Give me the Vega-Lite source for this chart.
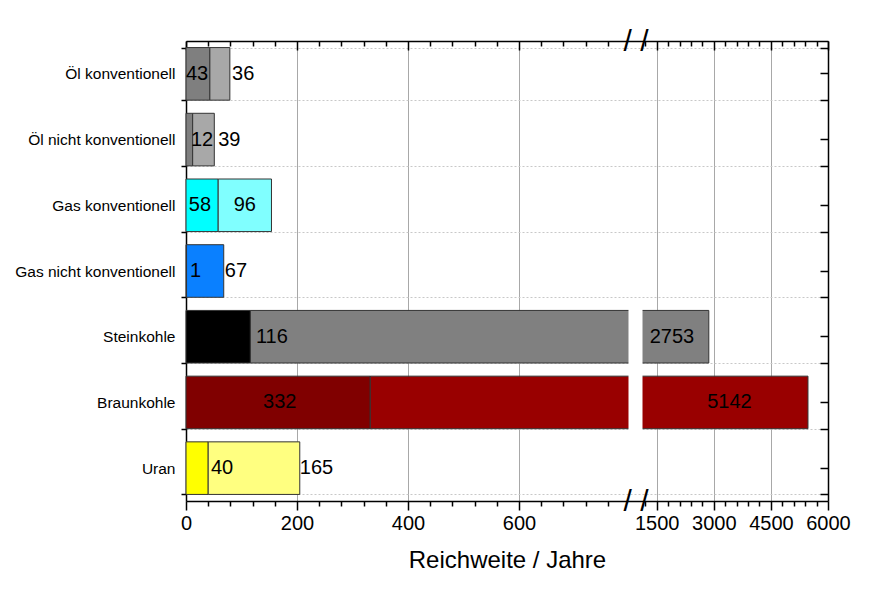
{
  "$schema": "https://vega.github.io/schema/vega-lite/v6.json",
  "autosize": {"type": "none"},
  "padding": {"left": 186, "top": 41, "right": 54, "bottom": 89},
  "width": 642,
  "height": 460,
  "background": "white",
  "config": {
    "font": "Liberation Sans",
    "view": {"stroke": null}
  },
  "datasets": {
    "reichweite": [
      {"kat": "Öl konventionell", "teil": "Reserven", "segment": "Öl Reserven", "wert": 43},
      {"kat": "Öl konventionell", "teil": "Ressourcen", "segment": "Öl Ressourcen", "wert": 36},
      {"kat": "Öl nicht konventionell", "teil": "Reserven", "segment": "Öl Reserven", "wert": 12},
      {"kat": "Öl nicht konventionell", "teil": "Ressourcen", "segment": "Öl Ressourcen", "wert": 39},
      {"kat": "Gas konventionell", "teil": "Reserven", "segment": "Gas Reserven", "wert": 58},
      {"kat": "Gas konventionell", "teil": "Ressourcen", "segment": "Gas Ressourcen", "wert": 96},
      {"kat": "Gas nicht konventionell", "teil": "Reserven", "segment": "Gas nk Reserven", "wert": 1},
      {"kat": "Gas nicht konventionell", "teil": "Ressourcen", "segment": "Gas nk Ressourcen", "wert": 67},
      {"kat": "Steinkohle", "teil": "Reserven", "segment": "Steinkohle Reserven", "wert": 116},
      {"kat": "Steinkohle", "teil": "Ressourcen", "segment": "Steinkohle Ressourcen", "wert": 2753},
      {"kat": "Braunkohle", "teil": "Reserven", "segment": "Braunkohle Reserven", "wert": 332},
      {"kat": "Braunkohle", "teil": "Ressourcen", "segment": "Braunkohle Ressourcen", "wert": 5142},
      {"kat": "Uran", "teil": "Reserven", "segment": "Uran Reserven", "wert": 40},
      {"kat": "Uran", "teil": "Ressourcen", "segment": "Uran Ressourcen", "wert": 165}
    ],
    "beschriftung": [
      {"kat": "Öl konventionell", "text": "43", "anker": 0, "lage": "links"},
      {"kat": "Öl konventionell", "text": "36", "anker": 83, "lage": "links"},
      {"kat": "Öl nicht konventionell", "text": "12", "anker": 9, "lage": "links"},
      {"kat": "Öl nicht konventionell", "text": "39", "anker": 58, "lage": "links"},
      {"kat": "Gas konventionell", "text": "58", "anker": 5, "lage": "links"},
      {"kat": "Gas konventionell", "text": "96", "anker": 106, "lage": "mitte"},
      {"kat": "Gas nicht konventionell", "text": "1", "anker": 7, "lage": "links"},
      {"kat": "Gas nicht konventionell", "text": "67", "anker": 70, "lage": "links"},
      {"kat": "Steinkohle", "text": "116", "anker": 126, "lage": "links"},
      {"kat": "Steinkohle", "text": "2753", "anker": 1900, "lage": "mitte"},
      {"kat": "Braunkohle", "text": "332", "anker": 169, "lage": "mitte"},
      {"kat": "Braunkohle", "text": "5142", "anker": 3410, "lage": "mitte"},
      {"kat": "Uran", "text": "40", "anker": 45, "lage": "links"},
      {"kat": "Uran", "text": "165", "anker": 205, "lage": "links"}
    ]
  },
  "resolve": {"axis": {"x": "independent", "y": "independent"}},
  "layer": [
    {
      "data": {"name": "reichweite"},
      "mark": {"type": "bar", "stroke": "#333333", "strokeWidth": 1},
      "encoding": {
        "y": {
          "field": "kat",
          "type": "nominal",
          "scale": {
            "domain": ["Öl konventionell", "Öl nicht konventionell", "Gas konventionell", "Gas nicht konventionell", "Steinkohle", "Braunkohle", "Uran"],
            "paddingInner": 0.2,
            "paddingOuter": 0.1
          },
          "axis": {
            "orient": "left",
            "title": null,
            "tickBand": "extent",
            "grid": true,
            "gridColor": "#c8c8c8",
            "gridDash": [2, 2],
            "tickSize": 5,
            "tickColor": "black",
            "tickWidth": 1.5,
            "domainColor": "black",
            "domainWidth": 1.5,
            "labelFontSize": 15.5,
            "labelColor": "black",
            "labelPadding": 6
          }
        },
        "x": {
          "field": "wert",
          "type": "quantitative",
          "stack": "zero",
          "scale": {"domain": [0, 800, 1088, 6000], "range": [0, 444, 455, 642], "nice": false, "zero": false},
          "axis": {
            "orient": "bottom",
            "values": [0, 200, 400, 600, 1500, 3000, 4500, 6000],
            "format": "d",
            "grid": true,
            "gridColor": "#a8a8a8",
            "gridWidth": 1,
            "tickSize": 9,
            "tickColor": "black",
            "tickWidth": 1.5,
            "domainColor": "black",
            "domainWidth": 1.5,
            "labelFontSize": 20,
            "labelColor": "black",
            "labelPadding": 3,
            "labelFlush": false,
            "labelOverlap": false,
            "title": "Reichweite / Jahre",
            "titleFontSize": 24,
            "titleFontWeight": "normal",
            "titleColor": "black",
            "titlePadding": 15
          }
        },
        "order": {"field": "teil"},
        "color": {
          "field": "segment",
          "type": "nominal",
          "legend": null,
          "scale": {
            "domain": ["Öl Reserven", "Öl Ressourcen", "Gas Reserven", "Gas Ressourcen", "Gas nk Reserven", "Gas nk Ressourcen", "Steinkohle Reserven", "Steinkohle Ressourcen", "Braunkohle Reserven", "Braunkohle Ressourcen", "Uran Reserven", "Uran Ressourcen"],
            "range": ["#7f7f7f", "#a8a8a8", "#00ffff", "#80ffff", "#0a80ff", "#0a80ff", "#000000", "#808080", "#800000", "#990000", "#ffff00", "#ffff80"]
          }
        }
      }
    },
    {
      "data": {"name": "reichweite"},
      "transform": [{"filter": "datum.wert > 1000"}],
      "mark": {"type": "bar", "color": "white", "stroke": "white", "strokeWidth": 3},
      "encoding": {
        "y": {
          "field": "kat",
          "type": "nominal",
          "axis": {
            "orient": "right",
            "title": null,
            "labels": false,
            "tickBand": "extent",
            "tickSize": -8,
            "tickColor": "black",
            "tickWidth": 1.5,
            "domainColor": "black",
            "domainWidth": 1.5,
            "grid": false
          }
        },
        "x": {
          "datum": 800,
          "type": "quantitative",
          "axis": {
            "orient": "bottom",
            "values": [40, 80, 120, 160, 240, 280, 320, 360, 440, 480, 520, 560, 640, 680, 720, 760, 944, 1200, 1800, 2100, 2400, 2700, 3300, 3600, 3900, 4200, 4800, 5100, 5400, 5700],
            "grid": false,
            "domain": false,
            "tickSize": 5,
            "tickColor": "black",
            "tickWidth": 1.5,
            "tickOpacity": {"condition": {"test": "datum.value === 944", "value": 0}, "value": 1},
            "labelExpr": "datum.value === 944 ? '/ /' : ''",
            "labelFontSize": 30,
            "labelColor": "black",
            "labelBaseline": "middle",
            "labelPadding": -5,
            "labelFlush": false,
            "labelOverlap": false,
            "title": null
          }
        },
        "x2": {"datum": 1088}
      }
    },
    {
      "data": {"name": "beschriftung"},
      "transform": [{"filter": "datum.lage === 'links'"}],
      "mark": {"type": "text", "align": "left", "baseline": "middle", "fontSize": 20, "color": "black"},
      "encoding": {
        "y": {
          "field": "kat",
          "type": "nominal",
          "axis": {
            "orient": "right",
            "title": null,
            "labels": false,
            "tickBand": "center",
            "tickSize": -8,
            "tickColor": "black",
            "tickWidth": 1.5,
            "domain": false,
            "grid": false
          }
        },
        "x": {
          "field": "anker",
          "type": "quantitative",
          "axis": {
            "orient": "top",
            "values": [0, 200, 400, 600, 1500, 3000, 4500, 6000],
            "grid": false,
            "labels": false,
            "tickSize": -9,
            "tickColor": "black",
            "tickWidth": 1.5,
            "domainColor": "black",
            "domainWidth": 1.5,
            "title": null
          }
        },
        "text": {"field": "text"}
      }
    },
    {
      "data": {"name": "beschriftung"},
      "transform": [{"filter": "datum.lage === 'mitte'"}],
      "mark": {"type": "text", "align": "center", "baseline": "middle", "fontSize": 20, "color": "black"},
      "encoding": {
        "y": {"field": "kat", "type": "nominal", "axis": null},
        "x": {
          "field": "anker",
          "type": "quantitative",
          "axis": {
            "orient": "top",
            "values": [40, 80, 120, 160, 240, 280, 320, 360, 440, 480, 520, 560, 640, 680, 720, 760, 944, 1200, 1800, 2100, 2400, 2700, 3300, 3600, 3900, 4200, 4800, 5100, 5400, 5700],
            "grid": false,
            "domain": false,
            "tickSize": -5,
            "tickColor": "black",
            "tickWidth": 1.5,
            "tickOpacity": {"condition": {"test": "datum.value === 944", "value": 0}, "value": 1},
            "labelExpr": "datum.value === 944 ? '/ /' : ''",
            "labelFontSize": 30,
            "labelColor": "black",
            "labelBaseline": "middle",
            "labelPadding": 5,
            "labelFlush": false,
            "labelOverlap": false,
            "title": null
          }
        },
        "text": {"field": "text"}
      }
    }
  ]
}
